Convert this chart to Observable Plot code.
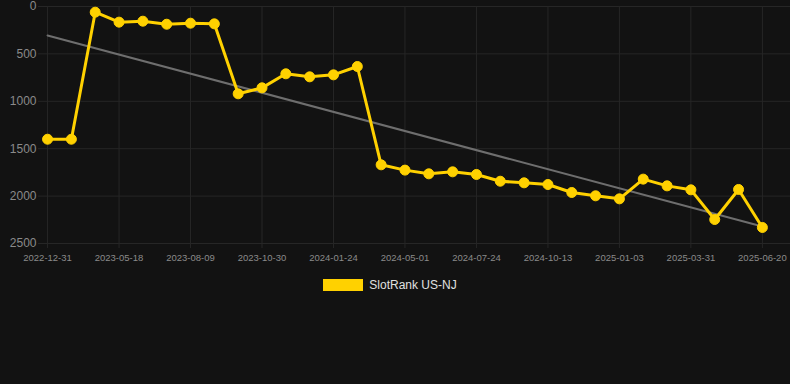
<!DOCTYPE html>
<html>
<head>
<meta charset="utf-8">
<script src="https://cdn.jsdelivr.net/npm/d3@7"></script>
<script src="https://cdn.jsdelivr.net/npm/@observablehq/plot@0.6"></script>
<style>
  html, body { margin: 0; padding: 0; background: #121212; }
  body { width: 790px; height: 384px; overflow: hidden; font-family: Arial, "Liberation Sans", Helvetica, sans-serif; }
  #chart svg { display: block; }
  .legend { display: flex; justify-content: center; align-items: center; margin-top: 8px; gap: 6px; color: #e0e0e0; font-size: 12px; padding-right: 10px; }
  .legend .sw { width: 40px; height: 12px; background: #FFD100; display: inline-block; }
</style>
</head>
<body>
<div id="chart"></div>
<div class="legend"><span class="sw"></span><span>SlotRank US-NJ</span></div>
<script>
// Rank values (one per observation, evenly spaced on x)
const ranks = [1400, 1400, 60, 165, 155, 187, 176, 183, 921, 858, 710, 742, 721, 633,
  1670, 1726, 1765, 1744, 1772, 1843, 1860, 1878, 1962, 1997, 2029, 1821, 1892, 1934, 2247, 1930, 2331];
// X tick labels (every third observation)
const tickLabels = ["2022-12-31", "2023-05-18", "2023-08-09", "2023-10-30", "2024-01-24",
  "2024-05-01", "2024-07-24", "2024-10-13", "2025-01-03", "2025-03-31", "2025-06-20"];
const tickStep = 3;
const yTicks = [0, 500, 1000, 1500, 2000, 2500];
const seriesName = "SlotRank US-NJ";

const data = ranks.map((v, i) => ({i, rank: v}));
const xTicks = tickLabels.map((_, k) => k * tickStep);

const gridColor = "#262626";
const chart = Plot.plot({
  width: 790,
  height: 270,
  marginTop: 6,
  marginBottom: 27,
  marginLeft: 38,
  marginRight: 0,
  style: {background: "#121212", fontFamily: "Arial, 'Liberation Sans', sans-serif", overflow: "visible"},
  x: {type: "linear", domain: [-0.38, 31.18], label: null},
  y: {domain: [0, 2500], reverse: true, label: null},
  marks: [
    Plot.gridY(yTicks, {stroke: gridColor, strokeOpacity: 1, strokeWidth: 1}),
    Plot.gridX(xTicks, {stroke: gridColor, strokeOpacity: 1, strokeWidth: 1, insetBottom: -5}),
    Plot.axisY(yTicks, {tickSize: 0, tickPadding: 2, fill: "#8a8a8a", fontSize: 12, tickFormat: d => String(d), label: null}),
    Plot.axisX(xTicks, {tickSize: 0, tickPadding: 11, fill: "#8a8a8a", fontSize: 9.5, tickFormat: i => tickLabels[i / tickStep], label: null}),
    Plot.linearRegressionY(data, {x: "i", y: "rank", stroke: "#6e6e6e", strokeWidth: 2, ci: 0}),
    Plot.line(data, {x: "i", y: "rank", stroke: "#FFD100", strokeWidth: 3, strokeLinejoin: "round"}),
    Plot.dot(data, {x: "i", y: "rank", r: 5, fill: "#FFD100", stroke: "#FFD100", strokeWidth: 1, title: d => `${seriesName}: ${d.rank}`})
  ]
});
document.getElementById("chart").appendChild(chart);
</script>
</body>
</html>
